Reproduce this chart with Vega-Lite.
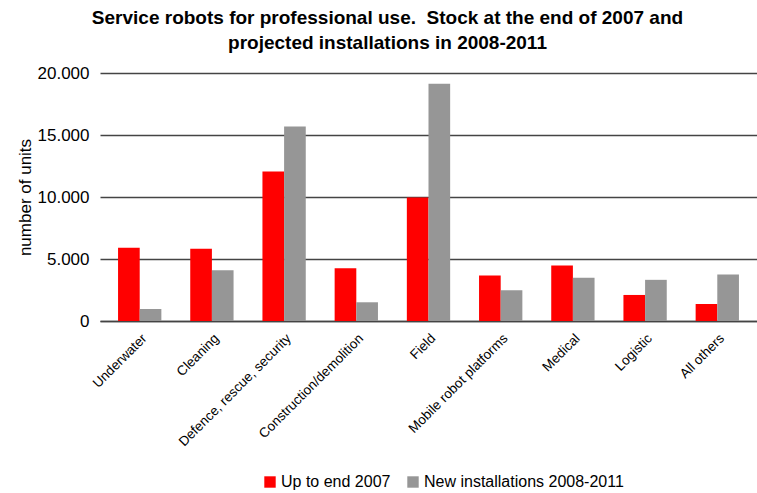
{
  "$schema": "https://vega.github.io/schema/vega-lite/v6.json",
  "autosize": "none",
  "width": 657,
  "height": 248,
  "padding": {"left": 100, "top": 73, "right": 0, "bottom": 172},
  "background": "white",
  "title": {
    "text": ["Service robots for professional use.\u00a0\u00a0Stock at the end of 2007 and", "projected installations in 2008-2011"],
    "font": "Liberation Sans",
    "fontSize": 19,
    "fontWeight": "bold",
    "color": "black",
    "anchor": "middle",
    "dx": -41,
    "offset": 11,
    "lineHeight": 25
  },
  "data": {
    "values": [
      {"category": "Underwater", "series": "Up to end 2007", "units": 5900},
      {"category": "Underwater", "series": "New installations 2008-2011", "units": 970},
      {"category": "Cleaning", "series": "Up to end 2007", "units": 5820},
      {"category": "Cleaning", "series": "New installations 2008-2011", "units": 4100},
      {"category": "Defence, rescue, security", "series": "Up to end 2007", "units": 12050},
      {"category": "Defence, rescue, security", "series": "New installations 2008-2011", "units": 15690},
      {"category": "Construction/demolition", "series": "Up to end 2007", "units": 4260},
      {"category": "Construction/demolition", "series": "New installations 2008-2011", "units": 1510},
      {"category": "Field", "series": "Up to end 2007", "units": 9950},
      {"category": "Field", "series": "New installations 2008-2011", "units": 19140},
      {"category": "Mobile robot platforms", "series": "Up to end 2007", "units": 3670},
      {"category": "Mobile robot platforms", "series": "New installations 2008-2011", "units": 2480},
      {"category": "Medical", "series": "Up to end 2007", "units": 4470},
      {"category": "Medical", "series": "New installations 2008-2011", "units": 3480},
      {"category": "Logistic", "series": "Up to end 2007", "units": 2100},
      {"category": "Logistic", "series": "New installations 2008-2011", "units": 3320},
      {"category": "All others", "series": "Up to end 2007", "units": 1370},
      {"category": "All others", "series": "New installations 2008-2011", "units": 3750}
    ]
  },
  "mark": {"type": "bar"},
  "encoding": {
    "x": {
      "field": "category",
      "type": "nominal",
      "sort": null,
      "scale": {"paddingInner": 0.4, "paddingOuter": 0.25},
      "axis": {
        "title": null,
        "labelAngle": -45,
        "labelFont": "Liberation Sans",
        "labelFontSize": 13.5,
        "labelColor": "black",
        "labelLimit": 0,
        "ticks": false,
        "labelPadding": 10,
        "labelDx": -11,
        "domainColor": "#444444",
        "domainWidth": 1.5
      }
    },
    "xOffset": {"field": "series", "type": "nominal", "sort": ["Up to end 2007", "New installations 2008-2011"]},
    "y": {
      "field": "units",
      "type": "quantitative",
      "scale": {"domain": [0, 20000]},
      "axis": {
        "title": "number of units",
        "titleFont": "Liberation Sans",
        "titleFontSize": 17,
        "titleFontWeight": "normal",
        "titleColor": "black",
        "titlePadding": 3,
        "values": [0, 5000, 10000, 15000, 20000],
        "labelExpr": "replace(format(datum.value, ','), ',', '.')",
        "labelFont": "Liberation Sans",
        "labelFontSize": 17,
        "labelColor": "black",
        "labelPadding": 11,
        "ticks": false,
        "domain": false,
        "grid": true,
        "gridColor": "#444444",
        "gridWidth": 1.3
      }
    },
    "color": {
      "field": "series",
      "type": "nominal",
      "sort": ["Up to end 2007", "New installations 2008-2011"],
      "scale": {"domain": ["Up to end 2007", "New installations 2008-2011"], "range": ["#ff0000", "#969696"]},
      "legend": {
        "title": null,
        "orient": "none",
        "legendX": 162,
        "legendY": 401,
        "direction": "horizontal",
        "symbolType": "square",
        "symbolSize": 130,
        "symbolStrokeWidth": 0,
        "labelFont": "Liberation Sans",
        "labelFontSize": 16,
        "labelColor": "black",
        "labelLimit": 0,
        "labelOffset": 3,
        "columnPadding": 14
      }
    }
  },
  "config": {
    "view": {"stroke": null}
  }
}
